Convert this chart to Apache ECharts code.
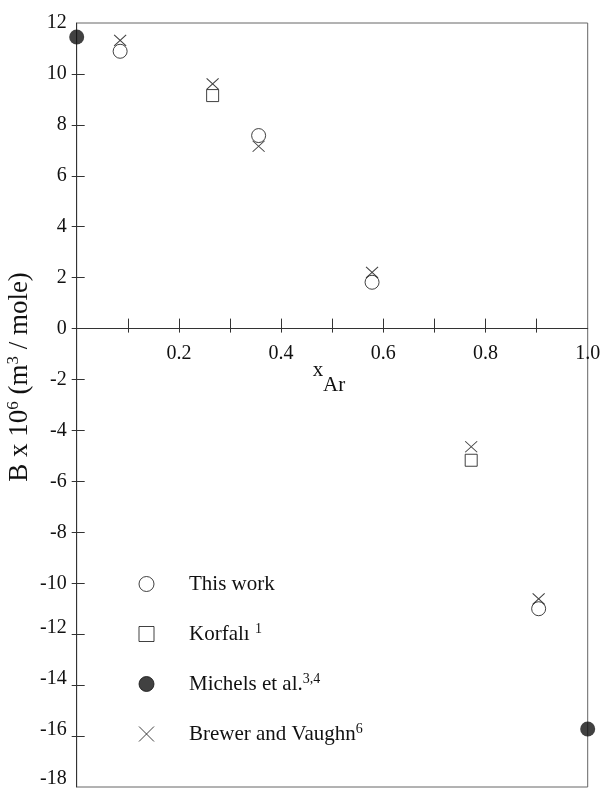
<!DOCTYPE html>
<html>
<head>
<meta charset="utf-8">
<script src="https://cdn.jsdelivr.net/npm/echarts@6/dist/echarts.min.js"></script>
<style>
  html, body { margin: 0; padding: 0; background: #fff; }
  #chart { width: 603px; height: 788px; }
</style>
</head>
<body>
<div id="chart"></div>
<script>
// mole fraction of Ar vs second virial coefficient B x 10^6
const thisWorkX = [0.085, 0.356, 0.578, 0.904]
const thisWorkY = [10.89, 7.58, 1.82, -11.0]
const korfaliX = [0.266, 0.772]
const korfaliY = [9.15, -5.17]
const michelsX = [0.0, 1.0]
const michelsY = [11.45, -15.72]
const brewerX = [0.085, 0.266, 0.356, 0.578, 0.772, 0.904]
const brewerY = [11.32, 9.61, 7.16, 2.21, -4.64, -10.61]

const xTicks = [0.1, 0.2, 0.3, 0.4, 0.5, 0.6, 0.7, 0.8, 0.9]
const xLabels = [0.2, 0.4, 0.6, 0.8, 1.0]
const yTicks = [-16, -14, -12, -10, -8, -6, -4, -2, 0, 2, 4, 6, 8, 10]
const yLabels = [-18, -16, -14, -12, -10, -8, -6, -4, -2, 0, 2, 4, 6, 8, 10, 12]

const seriesNames = ['This work', 'Korfalı', 'Michels et al.', 'Brewer and Vaughn']
const legendText = {
  'This work': 'This work',
  'Korfalı': 'Korfalı {sup|1}',
  'Michels et al.': 'Michels et al.{sup|3,4}',
  'Brewer and Vaughn': 'Brewer and Vaughn{sup|6}',
}

const FONT = '"Liberation Serif", "DejaVu Serif", serif'
const INK = '#111'

const GRID_TOP = 23
const GRID_BOTTOM = 1
const PLOT_H = 788 - GRID_TOP - GRID_BOTTOM
// the x axis crosses at B = 0, so lift the bottom axis up to that height
const ZERO_LIFT = -(PLOT_H * 18 / 30)

const pairs = (xs, ys) => xs.map((x, i) => [x, ys[i]])

const chart = echarts.init(document.getElementById('chart'), null, { renderer: 'canvas' })

const xBase = {
  type: 'value',
  min: 0,
  max: 1,
  interval: 0.1,
  position: 'bottom',
  offset: ZERO_LIFT,
  splitLine: { show: false },
  axisLine: { onZero: false, lineStyle: { color: '#333', width: 1 } },
}
const yBase = {
  type: 'value',
  min: -18,
  max: 12,
  interval: 2,
  position: 'left',
  splitLine: { show: false },
  axisLine: { onZero: true, lineStyle: { color: '#333', width: 1 } },
}

chart.setOption({
  backgroundColor: '#fff',
  animation: false,
  grid: {
    left: 76.7,
    right: 15.3,
    top: GRID_TOP,
    bottom: GRID_BOTTOM,
    show: true,
    borderColor: '#666',
    borderWidth: 1,
    containLabel: false,
    outerBoundsMode: 'none',
  },
  xAxis: [
    {
      ...xBase,
      axisTick: { show: true, inside: false, length: 4, customValues: xTicks, lineStyle: { color: '#333' } },
      axisLabel: {
        show: true,
        customValues: xLabels,
        hideOverlap: false,
        margin: 15,
        color: INK,
        fontFamily: FONT,
        fontSize: 20,
        formatter: (v) => Number(v).toFixed(1),
      },
    },
    {
      ...xBase,
      axisLine: { show: false, onZero: false },
      axisTick: { show: true, inside: true, length: 10, customValues: xTicks, lineStyle: { color: '#333' } },
      axisLabel: { show: false },
    },
  ],
  yAxis: [
    {
      ...yBase,
      axisTick: { show: true, inside: false, length: 5, customValues: yTicks, lineStyle: { color: '#333' } },
      axisLabel: {
        customValues: yLabels,
        margin: 10,
        color: INK,
        fontFamily: FONT,
        fontSize: 20,
        // lower labels sit a little above their ticks in the original
        formatter: (v) => (v <= -18 ? '{lo2|' + v + '}' : v <= -12 ? '{lo|' + v + '}' : String(v)),
        rich: {
          lo: { fontFamily: FONT, fontSize: 20, color: INK, padding: [0, 0, 12, 0] },
          lo2: { fontFamily: FONT, fontSize: 20, color: INK, padding: [0, 0, 16, 0] },
        },
      },
    },
    {
      ...yBase,
      axisLine: { show: false, onZero: true },
      axisTick: { show: true, inside: true, length: 8, customValues: yTicks, lineStyle: { color: '#333' } },
      axisLabel: { show: false },
    },
  ],
  legend: {
    orient: 'vertical',
    left: 133.5,
    top: 567,
    itemWidth: 15,
    itemHeight: 15,
    itemGap: 26,
    data: seriesNames,
    itemStyle: { borderWidth: 1 },
    formatter: (name) => legendText[name],
    textStyle: {
      color: INK,
      fontFamily: FONT,
      fontSize: 21,
      lineHeight: 24,
      padding: [0, 0, 0, 30],
      rich: {
        sup: { fontFamily: FONT, fontSize: 14, color: INK, verticalAlign: 'top', lineHeight: 24 },
      },
    },
  },
  graphic: [
    {
      type: 'text',
      x: 20,
      y: 377,
      rotation: Math.PI / 2,
      style: {
        text: 'B x 10{sup|6} (m{sup|3} / mole)',
        fontFamily: FONT,
        fontSize: 27,
        lineHeight: 30,
        fill: INK,
        align: 'center',
        verticalAlign: 'middle',
        rich: {
          sup: { fontFamily: FONT, fontSize: 17, fill: INK, verticalAlign: 'top', lineHeight: 30 },
        },
      },
    },
    {
      type: 'text',
      x: 318,
      y: 370,
      style: { text: 'x', fontFamily: FONT, fontSize: 21, fill: INK, align: 'center', verticalAlign: 'middle' },
    },
    {
      type: 'text',
      x: 323,
      y: 385,
      style: { text: 'Ar', fontFamily: FONT, fontSize: 21, fill: INK, align: 'left', verticalAlign: 'middle' },
    },
  ],
  series: [
    {
      name: 'This work',
      type: 'scatter',
      clip: false,
      symbol: 'circle',
      symbolSize: 14,
      itemStyle: { color: 'rgba(255,255,255,0)', borderColor: INK, borderWidth: 1 },
      data: pairs(thisWorkX, thisWorkY),
    },
    {
      name: 'Korfalı',
      type: 'scatter',
      clip: false,
      symbol: 'rect',
      symbolSize: 12,
      itemStyle: { color: 'rgba(255,255,255,0)', borderColor: INK, borderWidth: 1 },
      data: pairs(korfaliX, korfaliY),
    },
    {
      name: 'Michels et al.',
      type: 'scatter',
      clip: false,
      symbol: 'circle',
      symbolSize: 15,
      itemStyle: { color: INK, borderColor: INK, borderWidth: 0 },
      data: pairs(michelsX, michelsY),
    },
    {
      name: 'Brewer and Vaughn',
      type: 'scatter',
      clip: false,
      symbol: 'path://M0,0L10,10M10,0L0,10',
      symbolSize: [12, 11],
      itemStyle: { color: 'rgba(255,255,255,0)', borderColor: INK, borderWidth: 1 },
      data: pairs(brewerX, brewerY),
    },
  ],
})
</script>
</body>
</html>
